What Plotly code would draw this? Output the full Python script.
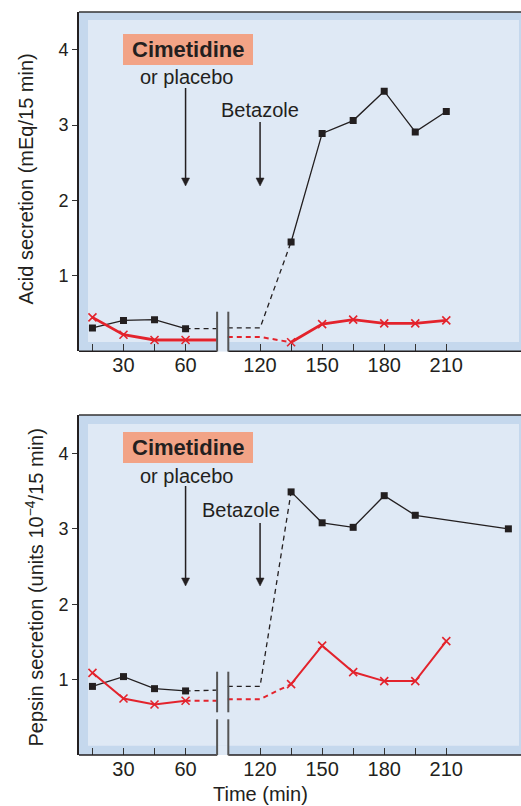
import plotly.graph_objects as go

# ---------------- data ----------------
time_pre = [15, 30, 45, 60]
time_post = [135, 150, 165, 180, 195, 210]
pepsin_time_post = [135, 150, 165, 180, 195, 240]

acid_placebo_pre = [0.31, 0.41, 0.42, 0.30]
acid_placebo_post = [1.45, 2.89, 3.06, 3.45, 2.91, 3.18]
acid_cimetidine_pre = [0.45, 0.22, 0.15, 0.15]
acid_cimetidine_post = [0.12, 0.36, 0.42, 0.37, 0.37, 0.41]

pepsin_placebo_pre = [0.91, 1.04, 0.88, 0.85]
pepsin_placebo_post = [3.49, 3.08, 3.02, 3.44, 3.18, 3.00]
pepsin_cimetidine_pre = [1.09, 0.75, 0.67, 0.72]
pepsin_cimetidine_post = [0.94, 1.45, 1.10, 0.98, 0.98, 1.51]

# levels of the interrupted segments: [before break, after break up to 120 min]
acid_placebo_gap = [0.30, 0.31]
acid_cimetidine_gap = [0.15, 0.19]
pepsin_placebo_gap = [0.86, 0.91]
pepsin_cimetidine_gap = [0.72, 0.74]

labeled_tick_times = [30, 60, 120, 150, 180, 210]
labeled_tick_text = ["30", "60", "120", "150", "180", "210"]
unlabeled_tick_times = [15, 45, 135, 165, 195]
y_ticks = [1, 2, 3, 4]

# axis break (real minutes)
BREAK_LEFT = 75
BREAK_RIGHT = 104.4
BREAK_SHIFT = 24
CIMETIDINE_TIME = 60
BETAZOLE_TIME = 120

# ---------------- styling ----------------
W, H = 521, 806
ML, MR, MT, MB = 79, 0, 12, 51
PW = W - ML - MR
PH = H - MT - MB
X_RANGE = [8.5, 222.1]
FONT = "Liberation Sans, Arial, Helvetica, sans-serif"
INK = "#231f20"
RED = "#e3232c"
DARK_BAND = "#c5d8ed"
LIGHT_BG = "#dfe9f5"
SALMON = "#f2a386"


def px(xp):
    return (xp - ML) / PW


def py(yp):
    return (H - MB - yp) / PH


def vx(times):
    return [t if t <= BREAK_LEFT else t - BREAK_SHIFT for t in times]


def x_to_pixel(v):
    return ML + (v - X_RANGE[0]) / (X_RANGE[1] - X_RANGE[0]) * PW


fig = go.Figure()


def add_panel(xa, ya, tpost, black_pre, black_post, red_pre, red_post,
              black_gap, red_gap, red_w, red_pre_conn_dash):
    fig.add_trace(go.Scatter(x=vx(time_pre), y=black_pre, mode="lines+markers",
                             line=dict(color=INK, width=1.3),
                             marker=dict(symbol="square", size=7, color=INK),
                             xaxis=xa, yaxis=ya, showlegend=False))
    fig.add_trace(go.Scatter(x=vx([time_pre[-1], BREAK_LEFT]),
                             y=[black_pre[-1], black_gap[0]], mode="lines",
                             line=dict(color=INK, width=1.3, dash="5px,4px"),
                             xaxis=xa, yaxis=ya, showlegend=False))
    fig.add_trace(go.Scatter(x=vx([BREAK_RIGHT, BETAZOLE_TIME, tpost[0]]),
                             y=[black_gap[1], black_gap[1], black_post[0]], mode="lines",
                             line=dict(color=INK, width=1.3, dash="5px,4px"),
                             xaxis=xa, yaxis=ya, showlegend=False))
    fig.add_trace(go.Scatter(x=vx(tpost), y=black_post, mode="lines+markers",
                             line=dict(color=INK, width=1.3),
                             marker=dict(symbol="square", size=7, color=INK),
                             xaxis=xa, yaxis=ya, showlegend=False))
    fig.add_trace(go.Scatter(x=vx([time_pre[-1], BREAK_LEFT]),
                             y=[red_pre[-1], red_gap[0]], mode="lines",
                             line=dict(color=RED, width=red_w, dash=red_pre_conn_dash),
                             xaxis=xa, yaxis=ya, showlegend=False))
    fig.add_trace(go.Scatter(x=vx(time_pre), y=red_pre, mode="lines+markers",
                             line=dict(color=RED, width=red_w),
                             marker=dict(symbol="x-thin", size=8,
                                         line=dict(color=RED, width=1.6)),
                             xaxis=xa, yaxis=ya, showlegend=False))
    fig.add_trace(go.Scatter(x=vx([BREAK_RIGHT, BETAZOLE_TIME, time_post[0]]),
                             y=[red_gap[1], red_gap[1], red_post[0]], mode="lines",
                             line=dict(color=RED, width=2, dash="5px,4px"),
                             xaxis=xa, yaxis=ya, showlegend=False))
    fig.add_trace(go.Scatter(x=vx(time_post), y=red_post, mode="lines+markers",
                             line=dict(color=RED, width=red_w),
                             marker=dict(symbol="x-thin", size=8,
                                         line=dict(color=RED, width=1.6)),
                             xaxis=xa, yaxis=ya, showlegend=False))


add_panel("x", "y", time_post, acid_placebo_pre, acid_placebo_post,
          acid_cimetidine_pre, acid_cimetidine_post,
          acid_placebo_gap, acid_cimetidine_gap, 2.8, "solid")
add_panel("x2", "y2", pepsin_time_post, pepsin_placebo_pre, pepsin_placebo_post,
          pepsin_cimetidine_pre, pepsin_cimetidine_post,
          pepsin_placebo_gap, pepsin_cimetidine_gap, 2.0, "5px,4px")

shapes = []
annotations = []

panels = [
    dict(top=12, bottom=351.3, in_top=20, in_bot=342, brk=[(311.7, 351.5)]),
    dict(top=415, bottom=755, in_top=424, in_bot=745.7, brk=[(671.7, 712.3), (719.3, 755.2)]),
]
bl_px, br_px = 217.1, 228.3
for p in panels:
    shapes.append(dict(type="rect", xref="paper", yref="paper", layer="below",
                       x0=px(79), x1=px(521), y0=py(p["bottom"]), y1=py(p["top"]),
                       fillcolor=DARK_BAND, line=dict(width=0)))
    shapes.append(dict(type="rect", xref="paper", yref="paper", layer="below",
                       x0=px(88), x1=px(519), y0=py(p["in_bot"]), y1=py(p["in_top"]),
                       fillcolor=LIGHT_BG, line=dict(width=0)))
    shapes.append(dict(type="rect", xref="paper", yref="paper", layer="below",
                       x0=px(bl_px), x1=px(br_px), y0=py(p["bottom"]), y1=py(p["in_bot"]),
                       fillcolor=LIGHT_BG, line=dict(width=0)))
    shapes.append(dict(type="line", xref="paper", yref="paper",
                       x0=px(79), x1=px(521), y0=py(p["top"]), y1=py(p["top"]),
                       line=dict(color="#333333", width=1.5)))
    for a, b in [(79, bl_px), (br_px, 521)]:
        shapes.append(dict(type="line", xref="paper", yref="paper",
                           x0=px(a), x1=px(b), y0=py(p["bottom"]), y1=py(p["bottom"]),
                           line=dict(color=INK, width=1.6)))
    for (a, b) in p["brk"]:
        for xb in (bl_px, br_px):
            shapes.append(dict(type="line", xref="paper", yref="paper",
                               x0=px(xb), x1=px(xb), y0=py(b), y1=py(a),
                               line=dict(color="#555555", width=2)))

text_sets = [
    dict(box=(123, 253, 34, 65), cim_y=49.5, plac=(186, 77), beta=(260, 110)),
    dict(box=(123, 253, 432, 463), cim_y=447.5, plac=(186, 476), beta=(240.5, 510)),
]
for t in text_sets:
    x0, x1, y0, y1 = t["box"]
    shapes.append(dict(type="rect", xref="paper", yref="paper",
                       x0=px(x0), x1=px(x1), y0=py(y1), y1=py(y0),
                       fillcolor=SALMON, line=dict(width=0), layer="below"))
    annotations.append(dict(xref="paper", yref="paper", x=px((x0 + x1) / 2), y=py(t["cim_y"]),
                            text="<b>Cimetidine</b>", showarrow=False,
                            font=dict(family=FONT, size=22, color=INK),
                            xanchor="center", yanchor="middle"))
    annotations.append(dict(xref="paper", yref="paper", x=px(t["plac"][0]), y=py(t["plac"][1]),
                            text="or placebo", showarrow=False,
                            font=dict(family=FONT, size=20, color=INK),
                            xanchor="center", yanchor="middle"))
    annotations.append(dict(xref="paper", yref="paper", x=px(t["beta"][0]), y=py(t["beta"][1]),
                            text="Betazole", showarrow=False,
                            font=dict(family=FONT, size=20, color=INK),
                            xanchor="center", yanchor="middle"))

# arrows drawn as shapes (vertical line + filled head)
arrow_defs = [
    (CIMETIDINE_TIME, 88, 186),
    (BETAZOLE_TIME, 122, 186),
    (CIMETIDINE_TIME, 486, 586),
    (BETAZOLE_TIME, 523, 586),
]
for t_real, tail, tip in arrow_defs:
    xp = x_to_pixel(vx([t_real])[0])
    shapes.append(dict(type="line", xref="paper", yref="paper",
                       x0=px(xp), x1=px(xp), y0=py(tail), y1=py(tip - 6),
                       line=dict(color=INK, width=1.5)))
    path = "M {a},{b} L {c},{d} L {e},{f} Z".format(
        a=px(xp - 4), b=py(tip - 8), c=px(xp + 4), d=py(tip - 8), e=px(xp), f=py(tip))
    shapes.append(dict(type="path", xref="paper", yref="paper", path=path,
                       fillcolor=INK, line=dict(color=INK, width=0.5)))

annotations.append(dict(xref="paper", yref="paper", x=px(26), y=py(179.5),
                        text="Acid secretion (mEq/15 min)", textangle=-90, showarrow=False,
                        font=dict(family=FONT, size=20, color=INK),
                        xanchor="center", yanchor="middle"))
annotations.append(dict(xref="paper", yref="paper", x=px(34), y=py(587.5),
                        text="Pepsin secretion (units 10<sup>−4</sup>/15 min)", textangle=-90,
                        showarrow=False, font=dict(family=FONT, size=20, color=INK),
                        xanchor="center", yanchor="middle"))
annotations.append(dict(xref="paper", yref="paper", x=px(260), y=py(794),
                        text="Time (min)", showarrow=False,
                        font=dict(family=FONT, size=20, color=INK),
                        xanchor="center", yanchor="middle"))

xaxis_common = dict(range=X_RANGE, domain=[0, 1], tickmode="array",
                    tickvals=vx(labeled_tick_times), ticktext=labeled_tick_text,
                    ticks="inside", ticklen=7, tickwidth=1.3, tickcolor="#333333",
                    minor=dict(tickmode="array", tickvals=vx(unlabeled_tick_times),
                               ticks="inside", ticklen=7, tickwidth=1.3,
                               tickcolor="#333333", showgrid=False),
                    showgrid=False, zeroline=False, showline=False,
                    tickfont=dict(family=FONT, size=20, color=INK), fixedrange=True)
yaxis_common = dict(tickvals=y_ticks, ticks="outside", ticklen=5, tickwidth=1.3,
                    tickcolor="#333333", showgrid=False, zeroline=False, showline=True,
                    linecolor=INK, linewidth=1.6,
                    tickfont=dict(family=FONT, size=18, color=INK), fixedrange=True)

fig.update_layout(
    width=W, height=H,
    margin=dict(l=ML, r=MR, t=MT, b=MB, pad=0),
    paper_bgcolor="white", plot_bgcolor="rgba(0,0,0,0)",
    xaxis=dict(anchor="y", **xaxis_common),
    xaxis2=dict(anchor="y2", **xaxis_common),
    yaxis=dict(anchor="x", domain=[py(351.3), 1], range=[0, 4.5], **yaxis_common),
    yaxis2=dict(anchor="x2", domain=[0, py(415)], range=[0, 4.51], **yaxis_common),
    shapes=shapes, annotations=annotations,
    showlegend=False,
)

fig.write_html("out.html", post_script="document.body.style.margin='0';",
               config={"displayModeBar": False})
